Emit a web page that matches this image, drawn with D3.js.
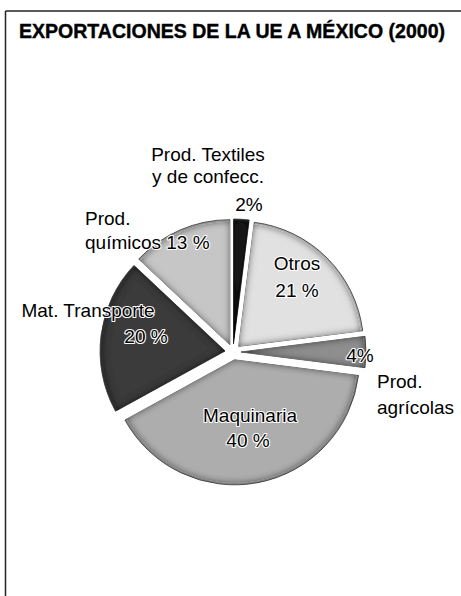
<!DOCTYPE html>
<html>
<head>
<meta charset="utf-8">
<script src="https://cdn.jsdelivr.net/npm/d3@7"></script>
<style>
  body { margin: 0; background: #fff; }
  svg { display: block; font-family: 'Liberation Sans', Arial, Helvetica, sans-serif; }
</style>
</head>
<body>
<div id="chart"></div>
<script>
// data, clockwise from 12 o'clock
const categories = ['Prod. Textiles y de confecc.', 'Otros', 'Prod. agrícolas', 'Maquinaria', 'Mat. Transporte', 'Prod. químicos'];
const values = [2, 21, 4, 40, 20, 13];
const shades = ['#1f1f1f', '#e1e1e1', '#8e8e8e', '#adadad', '#3b3b3b', '#c6c6c6'];
const labelLines = [
  ['Prod. Textiles', 'y de confecc.', '2%'],
  ['Otros', '21 %'],
  ['4%', 'Prod.', 'agrícolas'],
  ['Maquinaria', '40 %'],
  ['Mat. Transporte', '20 %'],
  ['Prod.', 'químicos 13 %']
];
const title = 'EXPORTACIONES DE LA UE A MÉXICO (2000)';

const width = 461;
const height = 596;
const cx = 233;
const cy = 352;
const radius = 125;
const explode = 8;

const svg = d3.select('#chart')
  .append('svg')
  .attr('width', width)
  .attr('height', height);

// frame: top rule and left rule
svg.append('line')
  .attr('x1', 5.5).attr('x2', width)
  .attr('y1', 11).attr('y2', 11)
  .attr('stroke', '#222').attr('stroke-width', 1.5);
svg.append('line')
  .attr('x1', 5.5).attr('x2', 5.5)
  .attr('y1', 11).attr('y2', height)
  .attr('stroke', '#222').attr('stroke-width', 1.5);

svg.append('text')
  .text(title)
  .attr('x', 19)
  .attr('y', 38)
  .attr('textLength', 426)
  .attr('lengthAdjust', 'spacingAndGlyphs')
  .style('font-size', '19.5px')
  .style('font-weight', 'bold')
  .style('fill', '#000')
  .style('stroke', '#000')
  .style('stroke-width', 0.4);

// bevel look: inner shadow along the slice edges
const defs = svg.append('defs');
const bevel = defs.append('filter')
  .attr('id', 'bevel')
  .attr('x', '-10%').attr('y', '-10%')
  .attr('width', '120%').attr('height', '120%');
bevel.append('feGaussianBlur')
  .attr('in', 'SourceAlpha')
  .attr('stdDeviation', 3.5)
  .attr('result', 'blur');
bevel.append('feComposite')
  .attr('in', 'SourceAlpha')
  .attr('in2', 'blur')
  .attr('operator', 'arithmetic')
  .attr('k2', 1).attr('k3', -1)
  .attr('result', 'edge');
bevel.append('feFlood')
  .attr('flood-color', '#000')
  .attr('flood-opacity', 0.95)
  .attr('result', 'dark');
bevel.append('feComposite')
  .attr('in', 'dark')
  .attr('in2', 'edge')
  .attr('operator', 'in')
  .attr('result', 'shadow');
const merge = bevel.append('feMerge');
merge.append('feMergeNode').attr('in', 'SourceGraphic');
merge.append('feMergeNode').attr('in', 'shadow');

const pie = d3.pie().sort(null).value(d => d);
const arcs = pie(values);

const arc = d3.arc().innerRadius(0).outerRadius(radius);
const innerArc = d3.arc().innerRadius(0).outerRadius(radius - 2);

const g = svg.append('g')
  .attr('transform', 'translate(' + cx + ',' + cy + ')');

const slices = g.selectAll('g.slice')
  .data(arcs)
  .enter()
  .append('g')
  .attr('class', 'slice')
  .attr('transform', d => {
    const a = (d.startAngle + d.endAngle) / 2;
    return 'translate(' + (Math.sin(a) * explode) + ',' + (-Math.cos(a) * explode) + ')';
  });

slices.append('path')
  .attr('d', arc)
  .style('fill', (d, i) => d3.color(shades[i]).darker(0.8))
  .style('stroke', '#333')
  .style('stroke-width', 0.8);

slices.append('path')
  .attr('d', innerArc)
  .style('fill', (d, i) => shades[i])
  .attr('filter', 'url(#bevel)');

// labels, placed relative to the pie centre like the original
const labelPos = [
  [{ x: -25, y: -191, a: 'middle' }, { x: -25, y: -169, a: 'middle' }, { x: 16, y: -141, a: 'middle' }],
  [{ x: 64, y: -82, a: 'middle' }, { x: 64, y: -55, a: 'middle' }],
  [{ x: 127, y: 10, a: 'middle' }, { x: 144, y: 36, a: 'start' }, { x: 144, y: 62, a: 'start' }],
  [{ x: 17, y: 70, a: 'middle' }, { x: 15, y: 95, a: 'middle' }],
  [{ x: -145, y: -35, a: 'middle' }, { x: -87, y: -9, a: 'middle' }],
  [{ x: -148, y: -127, a: 'start' }, { x: -148, y: -103, a: 'start' }]
];

const labels = [];
labelLines.forEach((lines, i) => {
  lines.forEach((t, j) => labels.push({ text: t, pos: labelPos[i][j] }));
});

g.selectAll('text.lbl')
  .data(labels)
  .enter()
  .append('text')
  .attr('class', 'lbl')
  .text(d => d.text)
  .attr('x', d => d.pos.x)
  .attr('y', d => d.pos.y)
  .attr('text-anchor', d => d.pos.a)
  .style('font-size', '19px')
  .style('fill', '#000')
  .style('stroke', '#fff')
  .style('stroke-width', 2.2)
  .style('stroke-linejoin', 'round')
  .style('paint-order', 'stroke');
</script>
</body>
</html>
